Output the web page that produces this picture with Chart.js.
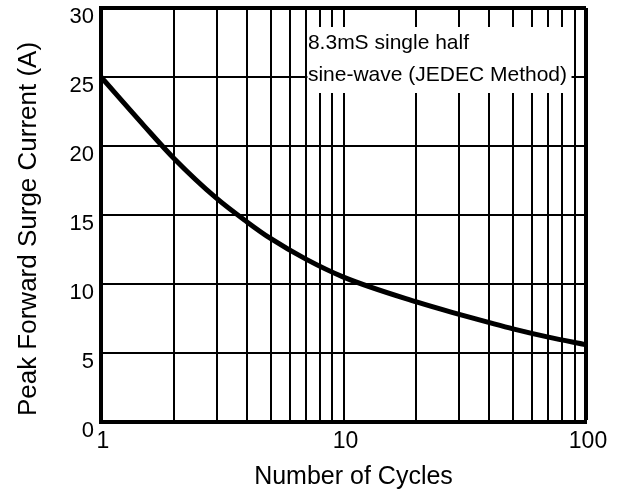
<!DOCTYPE html>
<html>
<head>
<meta charset="utf-8">
<script src="https://cdn.jsdelivr.net/npm/chart.js@4"></script>
<style>
  html, body { margin: 0; padding: 0; background: #fff; }
  #wrap { width: 619px; height: 497px; }
</style>
</head>
<body>
<div id="wrap"><canvas id="surgeChart" width="619" height="497"></canvas></div>
<script>
// Curve values
const cycles = [1, 1.5, 2, 3, 4, 5, 7, 10, 20, 30, 40, 50, 70, 100];
const peakCurrent = [25, 21.5, 19.1, 16.2, 14.5, 13.3, 11.8, 10.5, 8.7, 7.8, 7.2, 6.75, 6.15, 5.6];

// Axis ticks
const xGridValues = [1, 2, 3, 4, 5, 6, 7, 8, 9, 10, 20, 30, 40, 50, 60, 70, 80, 90, 100];
const xTickLabels = [1, 10, 100];
const yMin = 0;
const yMax = 30;
const yStep = 5;

// Texts
const xTitle = 'Number of Cycles';
const yTitle = 'Peak Forward Surge Current (A)';
const noteLines = ['8.3mS single half', 'sine-wave (JEDEC Method)'];

const FONT = '"Liberation Sans", Arial, sans-serif';

// Titles and the note box, placed from the chart area
const textPlugin = {
  id: 'textPlugin',
  afterDraw(chart) {
    const { ctx, chartArea, scales } = chart;
    ctx.save();
    ctx.fillStyle = '#000';
    ctx.textAlign = 'center';
    ctx.textBaseline = 'middle';
    ctx.font = '25px ' + FONT;
    ctx.fillText(xTitle, (chartArea.left + chartArea.right) / 2 + 10, chartArea.bottom + 55);
    ctx.translate(29, (chartArea.top + chartArea.bottom) / 2 + 14);
    ctx.rotate(-Math.PI / 2);
    ctx.font = '26px ' + FONT;
    ctx.fillText(yTitle, 0, 0);
    ctx.restore();

    // note with white background over the grid
    ctx.save();
    ctx.font = '21px ' + FONT;
    const x0 = scales.x.getPixelForValue(7);
    const w = Math.max(...noteLines.map(t => ctx.measureText(t).width)) + 5;
    ctx.fillStyle = '#fff';
    ctx.fillRect(x0 + 1.5, chartArea.top + 19, w, 66);
    ctx.fillStyle = '#000';
    ctx.textAlign = 'left';
    ctx.textBaseline = 'middle';
    noteLines.forEach((t, i) => {
      ctx.fillText(t, x0 + 2, chartArea.top + 35 + i * 32);
    });
    ctx.restore();
  }
};

const chart = new Chart(document.getElementById('surgeChart'), {
  type: 'line',
  data: {
    datasets: [{
      data: cycles.map((c, i) => ({ x: c, y: peakCurrent[i] })),
      borderColor: '#000',
      borderWidth: 5,
      pointRadius: 0,
      cubicInterpolationMode: 'monotone',
      fill: false
    }]
  },
  options: {
    responsive: false,
    animation: false,
    layout: { padding: { top: 8, right: 33, bottom: 0, left: 0 } },
    plugins: {
      legend: { display: false },
      tooltip: { enabled: false }
    },
    scales: {
      x: {
        type: 'logarithmic',
        min: 1,
        max: 100,
        afterBuildTicks: scale => {
          scale.ticks = xGridValues.map(v => ({ value: v }));
        },
        afterFit: scale => { scale.height = 75; },
        border: { display: true, color: '#000', width: 4 },
        grid: {
          color: '#000',
          lineWidth: ctx => (ctx.tick && ctx.tick.value === 100 ? 4 : 2),
          drawTicks: false
        },
        ticks: {
          autoSkip: false,
          maxRotation: 0,
          padding: 6,
          labelOffset: 2,
          color: '#000',
          font: { family: FONT, size: 23 },
          callback: value => (xTickLabels.includes(value) ? String(value) : '')
        }
      },
      y: {
        min: yMin,
        max: yMax,
        afterFit: scale => {
          scale.width = 101;
          scale.paddingTop = 0;
          scale.paddingBottom = 0;
        },
        border: { display: true, color: '#000', width: 4 },
        grid: {
          color: '#000',
          lineWidth: ctx => (ctx.tick && ctx.tick.value === yMax ? 4 : 2),
          drawTicks: false
        },
        ticks: {
          stepSize: yStep,
          padding: 7,
          labelOffset: 9,
          color: '#000',
          font: { family: FONT, size: 22 }
        }
      }
    }
  },
  plugins: [textPlugin]
});
</script>
</body>
</html>
